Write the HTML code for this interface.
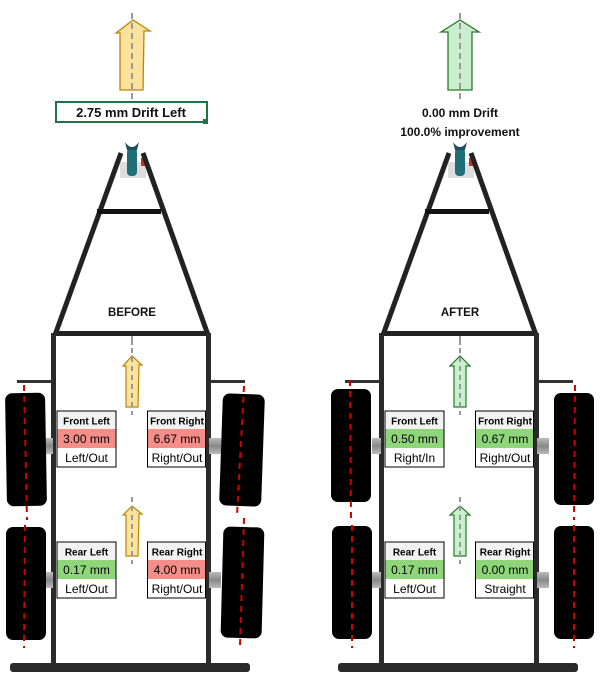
<!DOCTYPE html>
<html><head><meta charset="utf-8"><style>
html,body{margin:0;padding:0;background:#fff;}
svg{display:block;}
text{font-family:"Liberation Sans",sans-serif;}
</style></head><body>
<svg width="611" height="693" viewBox="0 0 611 693" xmlns="http://www.w3.org/2000/svg">
<defs>
<linearGradient id="ax" x1="0" y1="0" x2="0" y2="1"><stop offset="0" stop-color="#bbb"/><stop offset="0.5" stop-color="#888"/><stop offset="1" stop-color="#bbb"/></linearGradient>
<g id="frame">
  <rect x="120" y="162" width="26" height="16" fill="#ddd"/>
  <rect x="127" y="148" width="10" height="28" rx="4" fill="#1f6e78"/>
  <path d="M125 142 Q132 152 139 142 L137 150 L127 150 Z" fill="#1f4e5e"/>
  <rect x="141" y="158" width="4" height="8" fill="#b33"/>
  <path d="M121 153 L55 335" stroke="#222" stroke-width="5" fill="none"/>
  <path d="M143 153 L208 335" stroke="#222" stroke-width="5" fill="none"/>
  <rect x="97" y="209" width="64" height="5" fill="#111"/>
  <rect x="55" y="331" width="153" height="5" fill="#222"/>
  <rect x="51" y="333" width="5" height="337" fill="#2a2a2a"/>
  <rect x="206" y="333" width="5" height="337" fill="#2a2a2a"/>
  <rect x="10" y="663" width="240" height="9" rx="3" fill="#2a2a2a"/>
  <rect x="17" y="380" width="35" height="3" fill="#333"/>
  <rect x="210" y="380" width="35" height="3" fill="#333"/>
  <rect x="44" y="438" width="9" height="16" fill="url(#ax)"/>
  <rect x="209" y="438" width="12" height="16" fill="url(#ax)"/>
  <rect x="44" y="572" width="9" height="16" fill="url(#ax)"/>
  <rect x="209" y="572" width="12" height="16" fill="url(#ax)"/>
  <line x1="132" y1="336" x2="132" y2="345" stroke="#999" stroke-width="2"/>
</g>
</defs>

<!-- ===== LEFT (BEFORE) ===== -->
<path d="M120 90 L120 33 L116 33 L133 20 L150 31 L144 31 L143 90 Z" fill="#fbe39b" stroke="#b8860b" stroke-width="1.3"/>
<line x1="132" y1="13" x2="132" y2="100" stroke="#999" stroke-width="2" stroke-dasharray="6,4"/>
<rect x="56" y="102" width="151" height="20" fill="#fff" stroke="#217346" stroke-width="2"/>
<rect x="203" y="119" width="5" height="5" fill="#217346"/>
<text x="131" y="117" font-size="13" font-weight="bold" text-anchor="middle" fill="#111">2.75 mm Drift Left</text>
<use href="#frame"/>
<text x="132" y="316" font-size="11.5" font-weight="bold" text-anchor="middle" fill="#111">BEFORE</text>
<path d="M126 407 L126 366 L123 366 L132 356 L142 365 L139 365 L138 407 Z" fill="#fbe39b" stroke="#b8860b" stroke-width="1.2"/>
<line x1="132" y1="348" x2="132" y2="415" stroke="#999" stroke-width="2" stroke-dasharray="5,4"/>
<path d="M126 556 L126 515 L123 515 L132 506 L142 514 L139 514 L138 556 Z" fill="#fbe39b" stroke="#b8860b" stroke-width="1.2"/>
<line x1="132" y1="497" x2="132" y2="564" stroke="#999" stroke-width="2" stroke-dasharray="5,4"/>
<rect x="6" y="393" width="40" height="113" rx="7" fill="#000" transform="rotate(-1 26 450)"/>
<rect x="221" y="394" width="42" height="112" rx="7" fill="#000" transform="rotate(2 242 450)"/>
<rect x="6" y="527" width="40" height="113" rx="7" fill="#000"/>
<rect x="222" y="527" width="41" height="111" rx="7" fill="#000" transform="rotate(1.5 242 582)"/>
<line x1="24" y1="385" x2="27" y2="520" stroke="#c00" stroke-width="2" stroke-dasharray="6,5"/>
<line x1="25" y1="525" x2="24" y2="648" stroke="#c00" stroke-width="2" stroke-dasharray="6,5"/>
<line x1="244" y1="386" x2="237" y2="515" stroke="#c00" stroke-width="2" stroke-dasharray="6,5"/>
<line x1="244" y1="518" x2="240" y2="645" stroke="#c00" stroke-width="2" stroke-dasharray="6,5"/>
<g font-size="12">
<rect x="57.5" y="411.5" width="58" height="18" fill="#f2f2f2"/>
<rect x="57.5" y="429" width="58" height="19" fill="#f58d88"/>
<rect x="57" y="411" width="59" height="56" fill="none" stroke="#000"/>
<text x="86.5" y="424.5" font-size="10" font-weight="bold" text-anchor="middle">Front Left</text>
<text x="86.5" y="443" text-anchor="middle">3.00 mm</text>
<text x="86.5" y="462" text-anchor="middle">Left/Out</text>

<rect x="148" y="411.5" width="57" height="18" fill="#f2f2f2"/>
<rect x="148" y="429" width="57" height="19" fill="#f58d88"/>
<rect x="147.5" y="411" width="58" height="56" fill="none" stroke="#000"/>
<text x="177" y="424.5" font-size="10" font-weight="bold" text-anchor="middle">Front Right</text>
<text x="177" y="443" text-anchor="middle">6.67 mm</text>
<text x="177" y="462" text-anchor="middle">Right/Out</text>

<rect x="57.5" y="542.5" width="58" height="18" fill="#f2f2f2"/>
<rect x="57.5" y="560" width="58" height="19" fill="#8fd67a"/>
<rect x="57" y="542" width="59" height="56" fill="none" stroke="#000"/>
<text x="86.5" y="555.5" font-size="10" font-weight="bold" text-anchor="middle">Rear Left</text>
<text x="86.5" y="574" text-anchor="middle">0.17 mm</text>
<text x="86.5" y="593" text-anchor="middle">Left/Out</text>

<rect x="148" y="542.5" width="57" height="18" fill="#f2f2f2"/>
<rect x="148" y="560" width="57" height="19" fill="#f58d88"/>
<rect x="147.5" y="542" width="58" height="56" fill="none" stroke="#000"/>
<text x="177" y="555.5" font-size="10" font-weight="bold" text-anchor="middle">Rear Right</text>
<text x="177" y="574" text-anchor="middle">4.00 mm</text>
<text x="177" y="593" text-anchor="middle">Right/Out</text>
</g>

<!-- ===== RIGHT (AFTER) ===== -->
<g transform="translate(328,0)">
<path d="M120 90 L120 32 L113 32 L132 20 L151 32 L144 32 L144 90 Z" fill="#c9efcf" stroke="#2a7a2a" stroke-width="1.3"/>
<line x1="132" y1="13" x2="132" y2="100" stroke="#999" stroke-width="2" stroke-dasharray="6,4"/>
<text x="132" y="117" font-size="12" font-weight="bold" text-anchor="middle" fill="#111">0.00 mm Drift</text>
<text x="132" y="136" font-size="12" font-weight="bold" text-anchor="middle" fill="#111">100.0% improvement</text>
<use href="#frame"/>
<text x="132" y="316" font-size="11.5" font-weight="bold" text-anchor="middle" fill="#111">AFTER</text>
<path d="M126 407 L126 366 L122 366 L132 356 L142 366 L138 366 L138 407 Z" fill="#c9efcf" stroke="#2a7a2a" stroke-width="1.2"/>
<line x1="132" y1="348" x2="132" y2="415" stroke="#999" stroke-width="2" stroke-dasharray="5,4"/>
<path d="M126 556 L126 515 L122 515 L132 506 L142 515 L138 515 L138 556 Z" fill="#c9efcf" stroke="#2a7a2a" stroke-width="1.2"/>
<line x1="132" y1="497" x2="132" y2="564" stroke="#999" stroke-width="2" stroke-dasharray="5,4"/>
<rect x="3" y="389" width="40" height="113" rx="7" fill="#000"/>
<rect x="226" y="393" width="40" height="112" rx="7" fill="#000"/>
<rect x="4" y="526" width="40" height="113" rx="7" fill="#000"/>
<rect x="226" y="526" width="40" height="113" rx="7" fill="#000"/>
<line x1="22" y1="380" x2="23" y2="520" stroke="#c00" stroke-width="2" stroke-dasharray="6,5"/>
<line x1="24" y1="525" x2="24" y2="648" stroke="#c00" stroke-width="2" stroke-dasharray="6,5"/>
<line x1="247" y1="385" x2="246" y2="520" stroke="#c00" stroke-width="2" stroke-dasharray="6,5"/>
<line x1="246" y1="525" x2="246" y2="648" stroke="#c00" stroke-width="2" stroke-dasharray="6,5"/>
<g font-size="12">
<rect x="57.5" y="411.5" width="58" height="18" fill="#f2f2f2"/>
<rect x="57.5" y="429" width="58" height="19" fill="#8fd67a"/>
<rect x="57" y="411" width="59" height="56" fill="none" stroke="#000"/>
<text x="86.5" y="424.5" font-size="10" font-weight="bold" text-anchor="middle">Front Left</text>
<text x="86.5" y="443" text-anchor="middle">0.50 mm</text>
<text x="86.5" y="462" text-anchor="middle">Right/In</text>

<rect x="148" y="411.5" width="57" height="18" fill="#f2f2f2"/>
<rect x="148" y="429" width="57" height="19" fill="#8fd67a"/>
<rect x="147.5" y="411" width="58" height="56" fill="none" stroke="#000"/>
<text x="177" y="424.5" font-size="10" font-weight="bold" text-anchor="middle">Front Right</text>
<text x="177" y="443" text-anchor="middle">0.67 mm</text>
<text x="177" y="462" text-anchor="middle">Right/Out</text>

<rect x="57.5" y="542.5" width="58" height="18" fill="#f2f2f2"/>
<rect x="57.5" y="560" width="58" height="19" fill="#8fd67a"/>
<rect x="57" y="542" width="59" height="56" fill="none" stroke="#000"/>
<text x="86.5" y="555.5" font-size="10" font-weight="bold" text-anchor="middle">Rear Left</text>
<text x="86.5" y="574" text-anchor="middle">0.17 mm</text>
<text x="86.5" y="593" text-anchor="middle">Left/Out</text>

<rect x="148" y="542.5" width="57" height="18" fill="#f2f2f2"/>
<rect x="148" y="560" width="57" height="19" fill="#8fd67a"/>
<rect x="147.5" y="542" width="58" height="56" fill="none" stroke="#000"/>
<text x="177" y="555.5" font-size="10" font-weight="bold" text-anchor="middle">Rear Right</text>
<text x="177" y="574" text-anchor="middle">0.00 mm</text>
<text x="177" y="593" text-anchor="middle">Straight</text>
</g>
</g>
</svg>
</body></html>
